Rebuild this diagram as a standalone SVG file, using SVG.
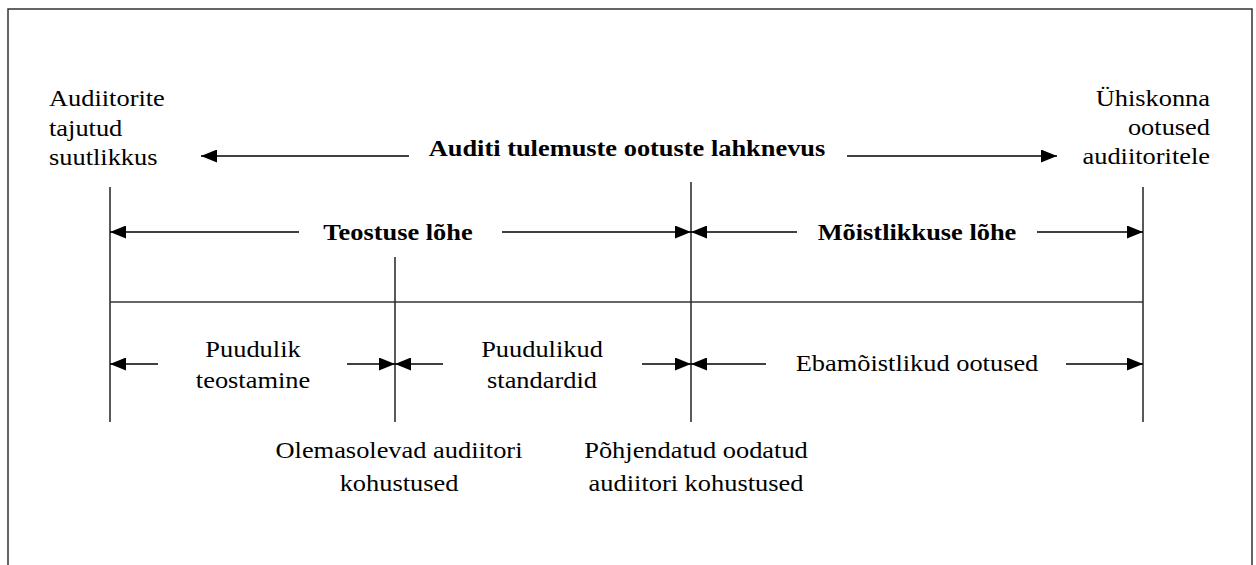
<svg xmlns="http://www.w3.org/2000/svg" width="1256" height="565" viewBox="0 0 1256 565">
  <style>
    .t { font-family: "Liberation Serif", "Times New Roman", serif; font-size: 24px; fill: #000; }
    .b { font-weight: bold; }
    .frame { fill: #fff; stroke: #333; stroke-width: 1.5; }
    .rule { stroke: #000; stroke-width: 1.3; fill: none; }
    .base { stroke: #333; stroke-width: 1.6; fill: none; }
    .arr { stroke: #000; stroke-width: 1.3; fill: none; marker-end: url(#head); }
  </style>
  <defs>
    <marker id="head" markerUnits="userSpaceOnUse" markerWidth="16" markerHeight="13" refX="16" refY="6.5" orient="auto">
      <path d="M0,0 L16,6.5 L0,13 Z" fill="#000"/>
    </marker>
  </defs>

  <rect width="1256" height="565" fill="#fff"/>
  <rect class="frame" x="8" y="9" width="1244" height="580"/>

  <!-- end points of the scale -->
  <g id="node-perceived">
    <text class="t" transform="translate(49,106) scale(1.1,1)">Audiitorite</text>
    <text class="t" transform="translate(49,136) scale(1.1,1)">tajutud</text>
    <text class="t" transform="translate(49,165) scale(1.1,1)">suutlikkus</text>
  </g>
  <g id="node-society">
    <text class="t" text-anchor="end" transform="translate(1210,106) scale(1.1,1)">Ühiskonna</text>
    <text class="t" text-anchor="end" transform="translate(1210,135) scale(1.1,1)">ootused</text>
    <text class="t" text-anchor="end" transform="translate(1210,164) scale(1.1,1)">audiitoritele</text>
  </g>

  <!-- gap labels -->
  <g id="node-expectation-gap">
    <text class="t b" text-anchor="middle" transform="translate(627,156) scale(1.1,1)">Auditi tulemuste ootuste lahknevus</text>
  </g>
  <g id="node-performance-gap">
    <text class="t b" text-anchor="middle" transform="translate(398,240) scale(1.1,1)">Teostuse lõhe</text>
  </g>
  <g id="node-reasonableness-gap">
    <text class="t b" text-anchor="middle" transform="translate(917,240) scale(1.1,1)">Mõistlikkuse lõhe</text>
  </g>
  <g id="node-deficient-performance">
    <text class="t" text-anchor="middle" transform="translate(253,357) scale(1.1,1)">Puudulik</text>
    <text class="t" text-anchor="middle" transform="translate(253,388) scale(1.1,1)">teostamine</text>
  </g>
  <g id="node-deficient-standards">
    <text class="t" text-anchor="middle" transform="translate(542,357) scale(1.1,1)">Puudulikud</text>
    <text class="t" text-anchor="middle" transform="translate(542,388) scale(1.1,1)">standardid</text>
  </g>
  <g id="node-unreasonable-expectations">
    <text class="t" text-anchor="middle" transform="translate(917,371) scale(1.1,1)">Ebamõistlikud ootused</text>
  </g>
  <g id="node-existing-duties">
    <text class="t" text-anchor="middle" transform="translate(399,458) scale(1.1,1)">Olemasolevad audiitori</text>
    <text class="t" text-anchor="middle" transform="translate(399,491) scale(1.1,1)">kohustused</text>
  </g>
  <g id="node-expected-duties">
    <text class="t" text-anchor="middle" transform="translate(696,458) scale(1.1,1)">Põhjendatud oodatud</text>
    <text class="t" text-anchor="middle" transform="translate(696,491) scale(1.1,1)">audiitori kohustused</text>
  </g>

  <g id="connectors">
    <!-- boundary lines -->
    <line class="rule" x1="110" y1="187" x2="110" y2="422"/>
    <line class="rule" x1="395" y1="257" x2="395" y2="422"/>
    <line class="rule" x1="691" y1="182" x2="691" y2="422"/>
    <line class="rule" x1="1143" y1="187" x2="1143" y2="422"/>
    <line class="base" x1="110" y1="302" x2="1143" y2="302"/>

    <!-- overall gap -->
    <line class="arr" x1="409" y1="156" x2="201" y2="156"/>
    <line class="arr" x1="847" y1="156" x2="1057" y2="156"/>

    <!-- performance / reasonableness gaps -->
    <line class="arr" x1="299" y1="232" x2="110" y2="232"/>
    <line class="arr" x1="502" y1="232" x2="691" y2="232"/>
    <line class="arr" x1="797" y1="232" x2="691" y2="232"/>
    <line class="arr" x1="1037" y1="232" x2="1143" y2="232"/>

    <!-- components -->
    <line class="arr" x1="158" y1="364" x2="110" y2="364"/>
    <line class="arr" x1="347" y1="364" x2="395" y2="364"/>
    <line class="arr" x1="443" y1="364" x2="395" y2="364"/>
    <line class="arr" x1="642" y1="364" x2="691" y2="364"/>
    <line class="arr" x1="766" y1="364" x2="691" y2="364"/>
    <line class="arr" x1="1066" y1="364" x2="1143" y2="364"/>
  </g>
</svg>
